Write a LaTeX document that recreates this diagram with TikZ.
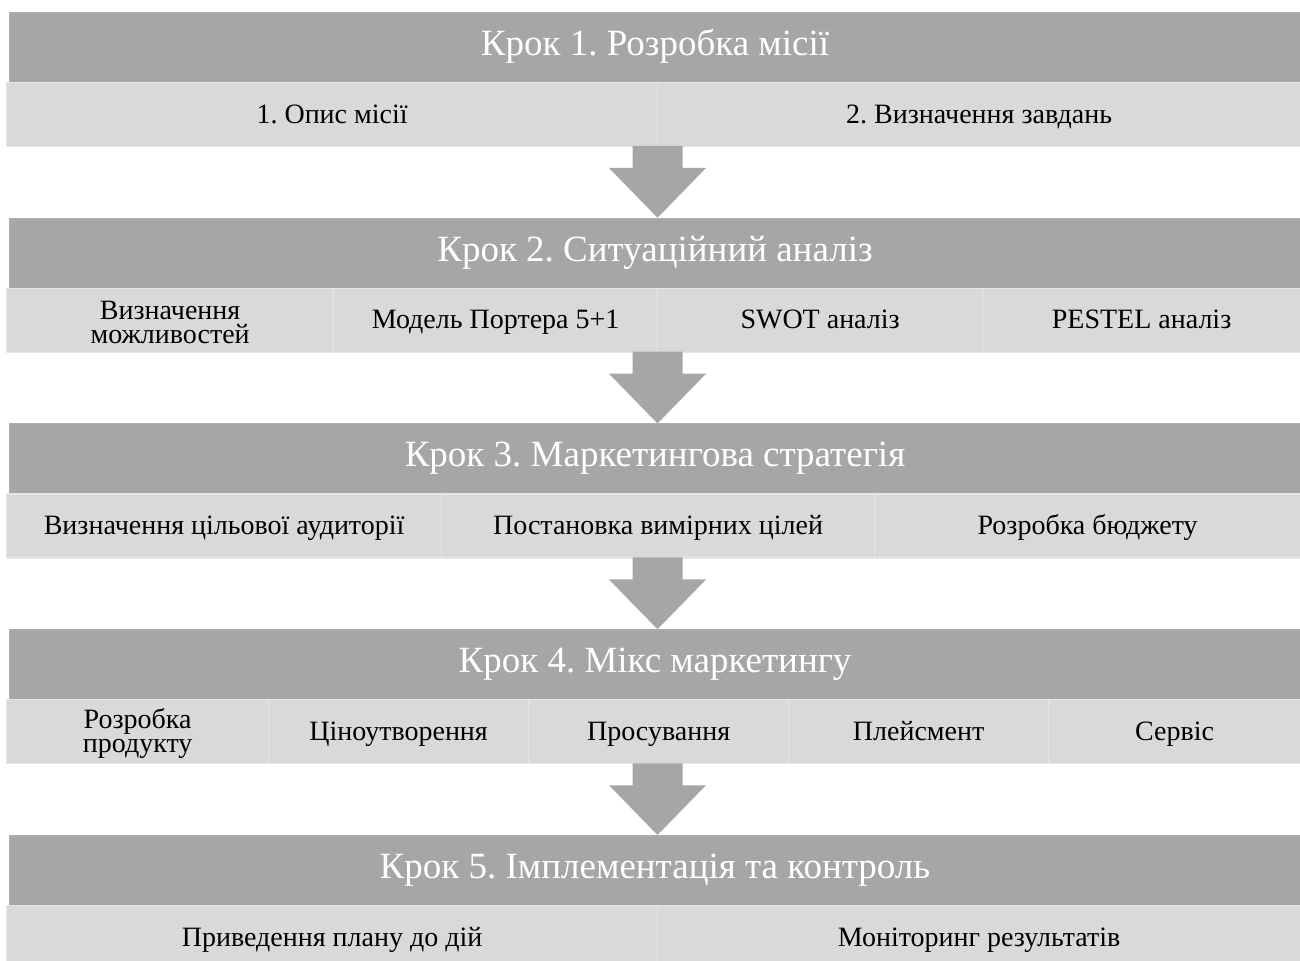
\documentclass[tikz,border=0pt]{standalone}
\usepackage{fontspec}
\setmainfont{Liberation Serif}
\usetikzlibrary{calc}
\definecolor{hdr}{HTML}{A6A6A6}
\definecolor{hdredge}{HTML}{AEAEAE}
\definecolor{cellfill}{HTML}{D9D9D9}
\definecolor{celledge}{HTML}{E6E6E6}
\frenchspacing

% box from (x1,y1) to (x2,y2), in picture units
\newcommand{\boxat}[7]{%
  \node[#7, anchor=north west, minimum width={(#4-#2)*0.5pt}, minimum height={(#5-#3)*0.5pt}]
    (#1) at (#2,#3) {#6};}

% block arrow pointing down from coordinate #1 to coordinate #2
\newcommand{\steparrow}[2]{%
  \fill[hdr] ($(#1)+(-25,0)$) -- ($(#1)+(25,0)$) -- ($(#1)+(25,22)$) -- ($(#1)+(48.5,22)$)
    -- (#2) -- ($(#1)+(-48.5,22)$) -- ($(#1)+(-25,22)$) -- cycle;}

\begin{document}
\begin{tikzpicture}[x=0.5pt, y=-0.5pt,
  stephead/.style={fill=hdr, draw=hdredge, line width=0.5pt, inner sep=0pt,
    text=white, font=\fontsize{18.5}{20}\selectfont, text height=0.8em, text depth=0pt},
  cellbase/.style={fill=cellfill, draw=celledge, line width=0.6pt, inner sep=2pt,
    text=black, align=center, font=\fontsize{14}{12}\selectfont},
  cellbox/.style={cellbase, text height=0.85em, text depth=0pt},
  pairtext/.style={inner sep=0pt, align=center, font=\fontsize{14}{12}\selectfont, yshift=-1pt}]
\useasboundingbox (0,0) rectangle (1300,961);
\clip (0,0) rectangle (1300,961);

% Step 1
\boxat{h1}{9}{12}{1300}{82}{Крок 1. Розробка місії}{stephead}
\boxat{c11}{6}{82}{657}{146}{1. Опис місії}{cellbox}
\boxat{c12}{657}{82}{1300}{146}{2. Визначення завдань}{cellbox}

% Step 2
\boxat{h2}{9}{217.75}{1300}{287.75}{Крок 2. Ситуаційний аналіз}{stephead}
\boxat{c21}{6}{287.75}{333}{351.75}{}{cellbase}
\node[pairtext] (c21t) at (c21.center) {Визначення\\можливостей};
\boxat{c22}{333}{287.75}{657}{351.75}{Модель Портера 5+1}{cellbox}
\boxat{c23}{657}{287.75}{982}{351.75}{SWOT аналіз}{cellbox}
\boxat{c24}{982}{287.75}{1300}{351.75}{PESTEL аналіз}{cellbox}

% Step 3
\boxat{h3}{9}{423.5}{1300}{493.5}{Крок 3. Маркетингова стратегія}{stephead}
\boxat{c31}{6}{493.5}{441}{557.5}{Визначення цільової аудиторії}{cellbox}
\boxat{c32}{441}{493.5}{874}{557.5}{Постановка вимірних цілей}{cellbox}
\boxat{c33}{874}{493.5}{1300}{557.5}{Розробка бюджету}{cellbox}

% Step 4
\boxat{h4}{9}{629.25}{1300}{699.25}{Крок 4. Мікс маркетингу}{stephead}
\boxat{c41}{6}{699.25}{268}{763.25}{}{cellbase}
\node[pairtext] (c41t) at (c41.center) {Розробка\\продукту};
\boxat{c42}{268}{699.25}{528}{763.25}{Ціноутворення}{cellbox}
\boxat{c43}{528}{699.25}{788}{763.25}{Просування}{cellbox}
\boxat{c44}{788}{699.25}{1048}{763.25}{Плейсмент}{cellbox}
\boxat{c45}{1048}{699.25}{1300}{763.25}{Сервіс}{cellbox}

% Step 5
\boxat{h5}{9}{835}{1300}{905}{Крок 5. Імплементація та контроль}{stephead}
\boxat{c51}{6}{905}{657}{969}{Приведення плану до дій}{cellbox}
\boxat{c52}{657}{905}{1300}{969}{Моніторинг результатів}{cellbox}

% arrows between the steps
\coordinate (a1s) at (657.5,146);    \coordinate (a1e) at (657.5,217.75);
\coordinate (a2s) at (657.5,351.75); \coordinate (a2e) at (657.5,423.5);
\coordinate (a3s) at (657.5,557.5);  \coordinate (a3e) at (657.5,629.25);
\coordinate (a4s) at (657.5,763.25); \coordinate (a4e) at (657.5,835);
\steparrow{a1s}{a1e}
\steparrow{a2s}{a2e}
\steparrow{a3s}{a3e}
\steparrow{a4s}{a4e}
\end{tikzpicture}
\end{document}
